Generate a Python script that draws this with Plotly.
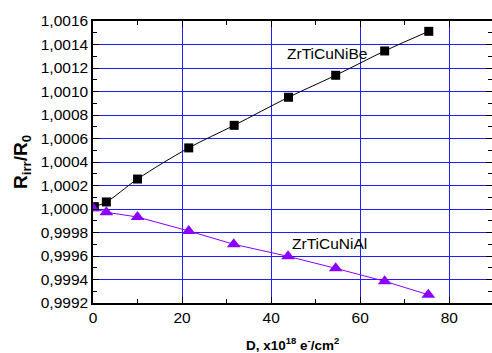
import plotly.graph_objects as go

# Data
dose_be = [0.3, 3.0, 10.0, 21.5, 31.7, 43.9, 54.5, 65.5, 75.4]
ratio_be = [1.00002, 1.00006, 1.000255, 1.00052, 1.000712, 1.000951, 1.001138, 1.001345, 1.001512]

dose_al = [0.0, 3.0, 10.0, 21.5, 31.6, 43.8, 54.5, 65.5, 75.3]
ratio_al = [1.000006, 0.999972, 0.999932, 0.999813, 0.9997, 0.999597, 0.999495, 0.999385, 0.99927]

label_be = "ZrTiCuNiBe"
label_al = "ZrTiCuNiAl"

fig = go.Figure()
fig.add_trace(go.Scatter(
    x=dose_be, y=ratio_be, mode="lines+markers",
    line=dict(color="black", width=1, shape="spline"),
    marker=dict(symbol="square", size=9, color="black"),
    showlegend=False))
fig.add_trace(go.Scatter(
    x=dose_al, y=ratio_al, mode="lines+markers",
    line=dict(color="#8B00FF", width=1),
    marker=dict(symbol="triangle-up", size=12, color="#8B00FF"),
    showlegend=False))
# invisible trace to activate right-side tick axis
fig.add_trace(go.Scatter(x=[None], y=[None], yaxis="y2", showlegend=False, hoverinfo="skip"))

font = "Liberation Sans, Arial, sans-serif"
grid = "rgb(30,30,255)"
yr = [0.9992, 1.0016]

fig.update_layout(
    width=492, height=353,
    margin=dict(l=93, r=0, t=21, b=50),
    paper_bgcolor="white", plot_bgcolor="white",
    separators=", ",
    font=dict(family=font, size=15, color="black"),
    xaxis=dict(
        range=[0, 89.6], tickvals=[0, 20, 40, 60, 80],
        showgrid=True, gridcolor=grid, gridwidth=1.3,
        showline=True, linecolor="black", linewidth=1.5, mirror="ticks",
        ticks="inside", ticklen=6, tickcolor="black", zeroline=False,
        minor=dict(dtick=10, ticks="inside", ticklen=4, tickcolor="black", showgrid=False),
        tickfont=dict(size=15.5),
    ),
    yaxis=dict(
        range=yr, dtick=0.0002, tick0=0.9992, tickformat=".4f",
        showgrid=True, gridcolor=grid, gridwidth=1.3,
        showline=True, linecolor="black", linewidth=1.5, mirror=False,
        ticks="inside", ticklen=6, tickcolor="black", zeroline=False,
        minor=dict(dtick=0.0001, ticks="inside", ticklen=4, tickcolor="black", showgrid=False),
        tickfont=dict(size=15.5),
    ),
    yaxis2=dict(
        range=yr, dtick=0.0002, tick0=0.9992, overlaying="y", side="right",
        showgrid=False, showline=False, showticklabels=False, zeroline=False,
        ticks="inside", ticklen=6, tickcolor="black",
        minor=dict(dtick=0.0001, ticks="inside", ticklen=4, tickcolor="black", showgrid=False),
    ),
    annotations=[
        dict(x=52.5, y=1.00132, xref="x", yref="y", text=label_be, showarrow=False,
             font=dict(size=15.5)),
        dict(x=53.1, y=0.999708, xref="x", yref="y", text=label_al, showarrow=False,
             font=dict(size=15.5)),
        dict(x=(22 - 93) / 399, y=0.5, xref="paper", yref="paper",
             text="<b>R<sub>irr</sub>/R<sub>0</sub></b>", textangle=-90, showarrow=False,
             font=dict(size=19), xanchor="center", yanchor="middle"),
        dict(x=0.5, y=(303 - 344) / 282, xref="paper", yref="paper",
             text="<b>D, x10<sup>18</sup> e<sup>-</sup>/cm<sup>2</sup></b>", showarrow=False,
             font=dict(size=13.5), xanchor="center", yanchor="middle"),
    ],
)

fig.write_html("out.html")
